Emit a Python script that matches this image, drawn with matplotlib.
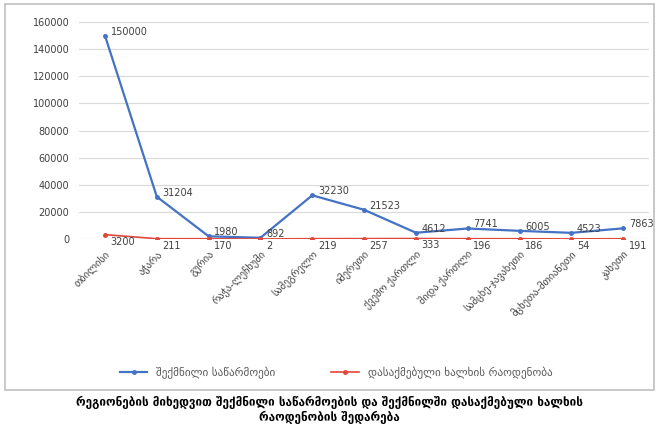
import matplotlib.pyplot as plt
from matplotlib.patches import Rectangle

regions = ["თბილისი", "აჭარა", "გურია", "რაჭა-ლეჩხუმი", "სამეგრელო", "იმერეთი",
           "ქვემო ქართლი", "შიდა ქართლი", "სამცხე-ჯავახეთი", "მცხეთა-მთიანეთი", "კახეთი"]
created = [150000, 31204, 1980, 892, 32230, 21523, 4612, 7741, 6005, 4523, 7863]
employed = [3200, 211, 170, 2, 219, 257, 333, 196, 186, 54, 191]
yticks = [0, 20000, 40000, 60000, 80000, 100000, 120000, 140000, 160000]

legend_created = "შექმნილი საწარმოები"
legend_employed = "დასაქმებული ხალხის რაოდენობა"
caption = ("რეგიონების მიხედვით შექმნილი საწარმოების და შექმნილში დასაქმებული ხალხის\n"
           "რაოდენობის შედარება")

blue = "#4472C4"
red = "#E0463A"

fig = plt.figure(figsize=(6.59, 4.26), dpi=100)
ax = fig.add_axes([0.12, 0.439, 0.865, 0.509])

x = list(range(len(regions)))
ax.plot(x, created, color=blue, lw=1.6, marker="o", ms=2.5, label=legend_created)
ax.plot(x, employed, color=red, lw=1.2, marker="o", ms=2.5, label=legend_employed)

for xi, v in zip(x, created):
    ax.annotate(str(v), (xi, v), xytext=(4, 3), textcoords="offset points",
                fontsize=7, va="center", ha="left", color="#404040")
for xi, v in zip(x, employed):
    ax.annotate(str(v), (xi, v), xytext=(4, -5), textcoords="offset points",
                fontsize=7, va="center", ha="left", color="#404040")

ax.set_xlim(-0.5, len(regions) - 0.5)
ax.set_ylim(0, 160000)
ax.set_yticks(yticks)
ax.set_yticklabels([str(t) for t in yticks], fontsize=7, color="#404040")
ax.set_xticks(x)
ax.set_xticklabels(regions, rotation=45, ha="right", rotation_mode="anchor",
                   fontsize=7.5, color="#404040")
ax.tick_params(length=0, pad=7)
ax.grid(axis="y", color="#d9d9d9", lw=0.8)
ax.set_axisbelow(True)
for s in ax.spines.values():
    s.set_visible(False)

fig.legend(loc="center", bbox_to_anchor=(0.51, 0.125), ncol=2, frameon=False,
           fontsize=8, handlelength=2.5, columnspacing=5,
           labelcolor="#595959")

fig.patches.append(Rectangle((0.008, 0.085), 0.985, 0.905, transform=fig.transFigure,
                             fill=False, edgecolor="#bfbfbf", lw=1.2))

fig.text(0.5, 0.038, caption, ha="center", va="center", fontsize=8.5,
         fontweight="bold", linespacing=1.15)

fig.savefig("out.png", dpi=100)
